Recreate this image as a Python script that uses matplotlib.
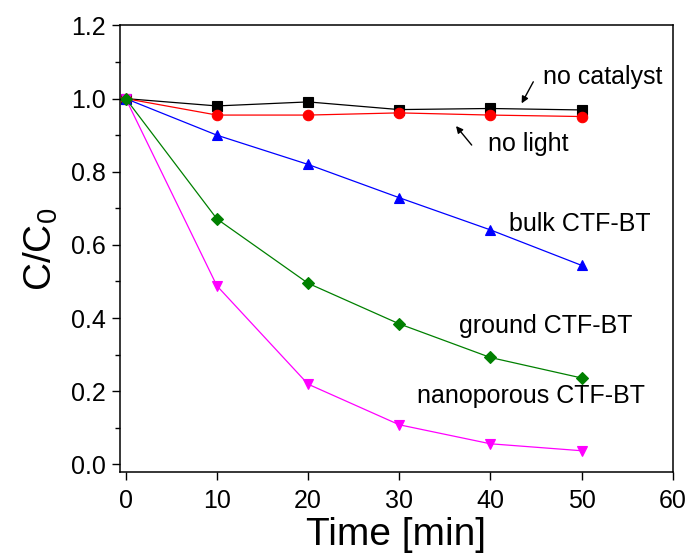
import matplotlib
matplotlib.use("Agg")
import matplotlib.pyplot as plt
from matplotlib.ticker import MultipleLocator

plt.rcParams['font.family'] = ['Liberation Sans', 'DejaVu Sans']
plt.rcParams['mathtext.default'] = 'regular'

# Sampling times (min)
time_min = [0, 10, 20, 30, 40, 50]

# Relative concentration C/C0 for each condition
no_catalyst = [1.0, 0.980, 0.991, 0.970, 0.973, 0.969]
no_light = [1.0, 0.955, 0.955, 0.961, 0.955, 0.951]
bulk_ctf = [1.0, 0.900, 0.820, 0.729, 0.641, 0.544]
nanoporous_ctf = [1.0, 0.488, 0.219, 0.108, 0.056, 0.037]
ground_ctf = [1.0, 0.671, 0.495, 0.384, 0.292, 0.236]

x_ticks = [0, 10, 20, 30, 40, 50, 60]
y_ticks = [0.0, 0.2, 0.4, 0.6, 0.8, 1.0, 1.2]

fig = plt.figure(figsize=(6.89, 5.59), dpi=100)
ax = fig.add_axes([0.1742, 0.1551, 0.8021, 0.7993])

line_kw = dict(lw=0.9, markersize=7, markeredgewidth=0.8)
ax.plot(time_min, no_catalyst, color='black', marker='s', **line_kw)
ax.plot(time_min, no_light, color='#ff0000', marker='o', lw=0.9,
        markersize=7.5, markeredgewidth=0.8)
ax.plot(time_min, bulk_ctf, color='#0000ff', marker='^', **line_kw)
ax.plot(time_min, nanoporous_ctf, color='#ff00ff', marker='v', **line_kw)
ax.plot(time_min, ground_ctf, color='#008000', marker='D',
        lw=0.9, markersize=6, markeredgewidth=0.8)

ax.set_xlim(-0.63, 60)
ax.set_ylim(-0.022, 1.2)
ax.set_xticks(x_ticks)
ax.set_yticks(y_ticks)
ax.set_xticklabels([str(v) for v in x_ticks])
ax.set_yticklabels([f"{v:.1f}" for v in y_ticks])
ax.yaxis.set_minor_locator(MultipleLocator(0.1))

for side in ('top', 'right', 'left', 'bottom'):
    ax.spines[side].set_linewidth(1.1)
ax.tick_params(axis='both', which='major', direction='out', length=6,
               width=1.0, labelsize=18)
ax.tick_params(axis='x', which='major', pad=6)
ax.tick_params(axis='y', which='major', pad=4)
ax.tick_params(axis='y', which='minor', direction='out', length=3.5, width=1.0)
ax.tick_params(top=False, right=False)

ax.set_xlabel('Time [min]', fontsize=28, labelpad=3)
ax.set_ylabel('C/C$_0$', fontsize=28, labelpad=8)

text_kw = dict(fontsize=18, va='center', ha='left')
ax.text(45.8, 1.06, 'no catalyst', **text_kw)
ax.text(39.7, 0.875, 'no light', **text_kw)
ax.text(42.0, 0.658, 'bulk CTF-BT', **text_kw)
ax.text(36.6, 0.379, 'ground CTF-BT', **text_kw)
ax.text(32.0, 0.187, 'nanoporous CTF-BT', **text_kw)

arrow_kw = dict(arrowstyle='-|>', color='black', lw=1.0,
                mutation_scale=10, shrinkA=0, shrinkB=0)
ax.annotate('', xy=(43.43, 0.987), xytext=(44.71, 1.046), arrowprops=arrow_kw)
ax.annotate('', xy=(36.23, 0.925), xytext=(37.95, 0.873), arrowprops=arrow_kw)

fig.savefig('out.png', dpi=100)
